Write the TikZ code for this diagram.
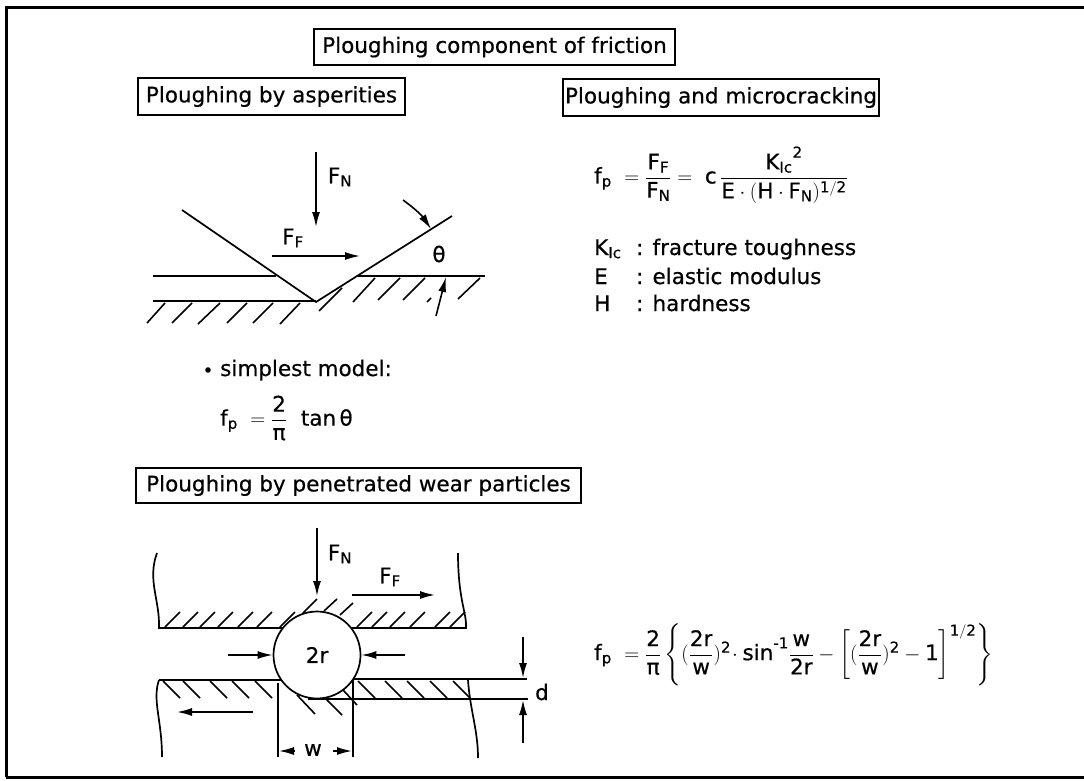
\documentclass[tikz,border=0pt]{standalone}
\usepackage{amsmath}
\usepackage{fontspec}
\setmainfont[FakeBold=0.5]{DejaVu Sans}
\usetikzlibrary{arrows.meta}
\newcommand{\fF}{\mathrm{F}_{\mathrm{F}}}
\newcommand{\fN}{\mathrm{F}_{\mathrm{N}}}
\newcommand{\fp}{\mathrm{f}_{\mathrm{p}}}
\newcommand{\kIc}{\mathrm{K}_{\mathrm{Ic}}}
\newcommand{\half}{\mathrm{1/2}}
\newcommand{\two}{\mathrm{2}}
\begin{document}
\begin{tikzpicture}[
    x=1pt, y=-1pt,
    titlebox/.style={rectangle, draw, line width=1.6pt, inner sep=0pt, font=\fontsize{21.5}{26}\selectfont},
    lbl/.style={font=\fontsize{21.5}{26}\selectfont, inner sep=0pt},
    eqn/.style={font=\fontsize{21.5}{26}\selectfont, inner sep=0pt},
    line/.style={line width=1.7pt},
    hatch/.style={line width=1.6pt},
    force/.style={line width=1.6pt, -{Latex[length=15pt,width=8pt]}},
    >=latex
]
    \useasboundingbox (0,0) rectangle (1084,781);
    % frame
    \draw[line width=3pt] (6,777) -- (1084,777);
    \draw[line width=3pt] (1084,8) -- (6,8) -- (6,777);

    % headings
    \node[titlebox, minimum width=361pt, minimum height=36pt] (title) at (494.5,47) {Ploughing component of friction};
    \node[titlebox, minimum width=267pt, minimum height=37pt] (asperities) at (271.5,96.5) {Ploughing by asperities};
    \node[titlebox, minimum width=316pt, minimum height=37pt] (microcrack) at (721,97.5) {Ploughing and microcracking};
    \node[titlebox, minimum width=445pt, minimum height=35pt] (particles) at (358.5,485.5) {Ploughing by penetrated wear particles};

    % wedge
    \draw[line] (182,210) -- (316,302) -- (452,216);
    \draw[line] (153,276) -- (276,276);
    \draw[line] (153,301) -- (316,301);
    \draw[line] (358,276) -- (485,276);
    \foreach \xa/\ya/\xb/\yb in {165/303/147/323, 192/303/172/323, 220/303/198/324, 247/303/227/323,
        273/303/253/323, 300/303/280/324, 342/288/319/311, 375/278/353/302, 400/278/378/300,
        425/278/403/300, 431/298/427/302, 480/278/458/299}
        \draw[hatch] (\xa,\ya) -- (\xb,\yb);
    \draw[force] (316,152) -- (316,227);
    \node[lbl] (wedgeFN) at (340,177) {$\fN$};
    \draw[force] (272,256) -- (360,256);
    \node[lbl] (wedgeFF) at (293,238) {$\fF$};
    \draw[force] (403,200) to[bend left=10] (431,229);
    \draw[force] (436,316) -- (446,277);
    \node[lbl] (theta) at (439,254) {θ};

    % simplest model
    \fill (208,370) circle (2.8pt);
    \node[lbl, anchor=base west] (simplest) at (220,376) {simplest model:};
    \node[eqn, anchor=west] (tanform) at (220,418) {$\fp\ =\dfrac{\two}{\text{π}}\ \ \mathrm{tan}\,\text{θ}$};

    % microcracking
    \node[eqn, anchor=west] (crackform) at (594,175) {$\fp\ =\dfrac{\fF}{\fN}=\ \mathrm{c}\,\dfrac{\kIc{}^{\two}}{\mathrm{E}\cdot(\mathrm{H}\cdot\fN)^{\half}}$};
    \node[lbl, anchor=base west] (kname) at (594,255) {$\kIc$};
    \node[lbl, anchor=base west] (ename) at (594,284) {E};
    \node[lbl, anchor=base west] (hname) at (594,311) {H};
    \node[lbl, anchor=base west] (ktext) at (636,255) {: fracture toughness};
    \node[lbl, anchor=base west] (etext) at (636,284) {: elastic modulus};
    \node[lbl, anchor=base west] (htext) at (636,311) {: hardness};

    % upper body
    \draw[line] (157,553) .. controls (147,580) and (160,600) .. (159,628) -- (283,628);
    \draw[line] (351,628) -- (466,628) .. controls (467,613) and (458,600) .. (458,553);
    \foreach \x in {165,183,200,218,238,257,280,357,372,390,410,435,450}
        \draw[hatch] (\x,627) -- ++(15,-15);
    \draw[hatch] (303,613) -- (317,599);
    \draw[hatch] (324,611) -- (337,599);
    \draw[hatch] (340,615) -- (353,603);

    % lower body
    \draw[line] (159,680) -- (282,680);
    \draw[line] (352,679) -- (527,679);
    \draw[line] (308,699) -- (528,699);
    \draw[line] (159,680) .. controls (152,700) and (162,720) .. (162,757);
    \draw[line] (468,680) .. controls (470,710) and (478,730) .. (478,758);
    \foreach \x in {163,183,210,232,255,358,385,407,430,453}
        \draw[hatch] (\x,681) -- ++(17,17);
    \draw[hatch] (297,695) -- (315,714);
    \draw[hatch] (325,698) -- (342,715);
    \draw[hatch] (343,690) -- (357,705);

    % particle
    \draw[line] (278,683) -- (278,757);
    \draw[line] (353,680) -- (353,757);
    \node[circle, draw, line width=1.7pt, fill=white, minimum size=87pt, inner sep=0pt, font=\fontsize{21.5}{26}\selectfont] (ball) at (317,655) {2r};
    \draw[force] (317,528) -- (317,596);
    \node[lbl] (partFN) at (340,554) {$\fN$};
    \draw[force] (352,595) -- (435,595);
    \node[lbl] (partFF) at (390,577) {$\fF$};
    \draw[force] (228,655) -- (ball.west);
    \draw[force] (405,655) -- (ball.east);
    \draw[force] (253,712) -- (177,712);
    \draw[force] (295,751) -- (279,751);
    \draw[force] (333,751) -- (352,751);
    \node[lbl] (wlabel) at (313,750) {w};
    \draw[force] (523,637) -- (523,678);
    \draw[force] (523,743) -- (523,700);
    \node[lbl] (dlabel) at (542,692) {d};

    % particle formula
    \node[eqn, anchor=west] (partform) at (594,655) {$\fp\ =\dfrac{\two}{\text{π}}\left\{(\dfrac{\two\mathrm{r}}{\mathrm{w}})^{\two}\!\cdot\mathrm{sin}^{\text{-}\mathrm{1}}\dfrac{\mathrm{w}}{\two\mathrm{r}}-\left[(\dfrac{\two\mathrm{r}}{\mathrm{w}})^{\two}-\mathrm{1}\right]^{\half}\right\}$};
\end{tikzpicture}
\end{document}
